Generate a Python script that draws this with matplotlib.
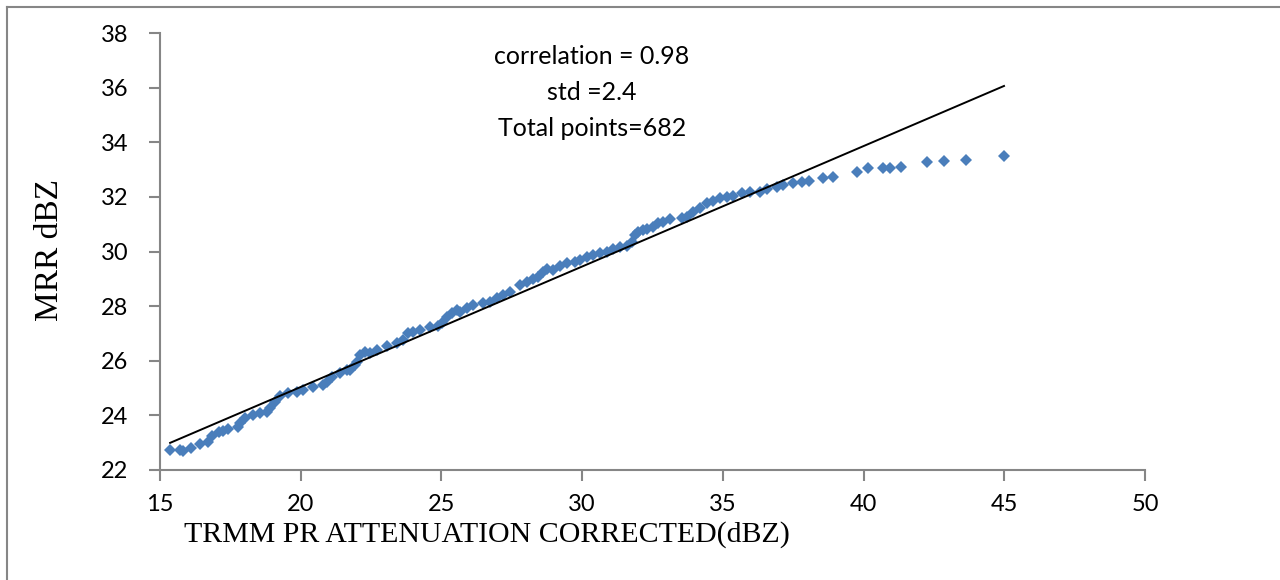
import matplotlib
matplotlib.use("Agg")
import matplotlib.pyplot as plt
from matplotlib.lines import Line2D

# TRMM PR (attenuation corrected) vs MRR reflectivity
trmm_dbz = [15.36, 15.71, 15.82, 16.10, 16.42, 16.71, 16.85, 17.10, 17.24, 17.42,
            17.77, 17.84, 18.02, 18.30, 18.55, 18.80, 18.91, 19.09, 19.26, 19.55,
            19.87, 20.08, 20.44, 20.79, 20.93, 21.11, 21.40, 21.65, 21.75, 21.93,
            22.00, 22.11, 22.28, 22.46, 22.71, 23.07, 23.42, 23.64, 23.81, 23.99,
            24.24, 24.59, 24.88, 25.02, 25.20, 25.38, 25.55, 25.66, 25.91, 26.12,
            26.48, 26.73, 26.98, 27.19, 27.44, 27.79, 28.04, 28.26, 28.43, 28.61,
            28.75, 28.97, 29.21, 29.46, 29.75, 29.93, 30.17, 30.39, 30.64, 30.88,
            31.10, 31.35, 31.60, 31.77, 31.88, 31.99, 32.16, 32.31, 32.52, 32.70,
            32.87, 33.12, 33.55, 33.73, 33.94, 34.19, 34.44, 34.65, 34.90, 35.15,
            35.36, 35.68, 35.97, 36.32, 36.57, 36.93, 37.14, 37.49, 37.81, 38.06,
            38.56, 38.92, 39.77, 40.16, 40.69, 40.94, 41.33, 42.26, 42.86, 43.64,
            44.99]
mrr_dbz = [22.73, 22.73, 22.70, 22.81, 22.95, 23.03, 23.25, 23.39, 23.43, 23.50,
           23.58, 23.72, 23.90, 24.01, 24.09, 24.12, 24.27, 24.49, 24.71, 24.82,
           24.86, 24.93, 25.04, 25.11, 25.22, 25.41, 25.55, 25.66, 25.66, 25.85,
           25.96, 26.21, 26.32, 26.29, 26.40, 26.54, 26.65, 26.76, 27.02, 27.05,
           27.13, 27.24, 27.27, 27.38, 27.60, 27.75, 27.86, 27.79, 27.93, 28.04,
           28.12, 28.15, 28.30, 28.41, 28.52, 28.78, 28.89, 29.00, 29.07, 29.25,
           29.36, 29.33, 29.47, 29.58, 29.62, 29.69, 29.80, 29.88, 29.95, 29.99,
           30.10, 30.17, 30.21, 30.35, 30.61, 30.72, 30.79, 30.83, 30.90, 31.05,
           31.08, 31.19, 31.23, 31.27, 31.45, 31.60, 31.78, 31.85, 31.96, 32.00,
           32.04, 32.15, 32.18, 32.18, 32.29, 32.37, 32.44, 32.51, 32.55, 32.59,
           32.70, 32.73, 32.92, 33.06, 33.06, 33.06, 33.10, 33.28, 33.32, 33.36,
           33.50]

# linear fit line drawn over the data range
fit_slope = 0.441
fit_intercept = 16.22

stats_text = ["correlation = 0.98", "std =2.4", "Total points=682"]

fig = plt.figure(figsize=(12.8, 5.8), dpi=100)
ax = fig.add_axes([160 / 1280, 1 - 470 / 580, 985 / 1280, 437 / 580])

ax.plot(trmm_dbz, mrr_dbz, linestyle="none", marker="D", markersize=6.3,
        color="#4a7ebb", markeredgewidth=0)
x_fit = [min(trmm_dbz), max(trmm_dbz)]
ax.plot(x_fit, [fit_slope * x + fit_intercept for x in x_fit], color="black", lw=1.4)

ax.set_xlim(15, 50)
ax.set_ylim(22, 38)
ax.set_xticks(range(15, 51, 5))
ax.set_yticks(range(22, 39, 2))
for side in ["top", "right"]:
    ax.spines[side].set_visible(False)
for side in ["left", "bottom"]:
    ax.spines[side].set_color("#868686")
    ax.spines[side].set_linewidth(1.5)
ax.tick_params(direction="out", length=8, width=1.5, color="#868686",
               labelsize=17, labelcolor="black")
ax.tick_params(axis="y", pad=15)
ax.tick_params(axis="x", pad=9)
for lab in ax.get_xticklabels() + ax.get_yticklabels():
    lab.set_family("Lato")

# stats block
for i, s in enumerate(stats_text):
    fig.text(592 / 1280, 1 - (57 + 36 * i) / 580, s, ha="center", va="center",
             fontsize=18, family="Lato")

fig.text(487 / 1280, 1 - 535 / 580, "TRMM PR ATTENUATION CORRECTED(dBZ)",
         ha="center", va="center", fontsize=21.5, family="Liberation Serif")
fig.text(50 / 1280, 1 - 250 / 580, "MRR dBZ", ha="center", va="center",
         rotation=90, fontsize=24, family="Liberation Serif")

# outer frame around the chart area
fig.add_artist(Line2D([7 / 1280, 1], [1 - 7 / 580, 1 - 7 / 580], color="#868686", lw=1.5))
fig.add_artist(Line2D([7 / 1280, 7 / 1280], [0, 1 - 7 / 580], color="#868686", lw=1.5))

fig.savefig("out.png", dpi=100)
